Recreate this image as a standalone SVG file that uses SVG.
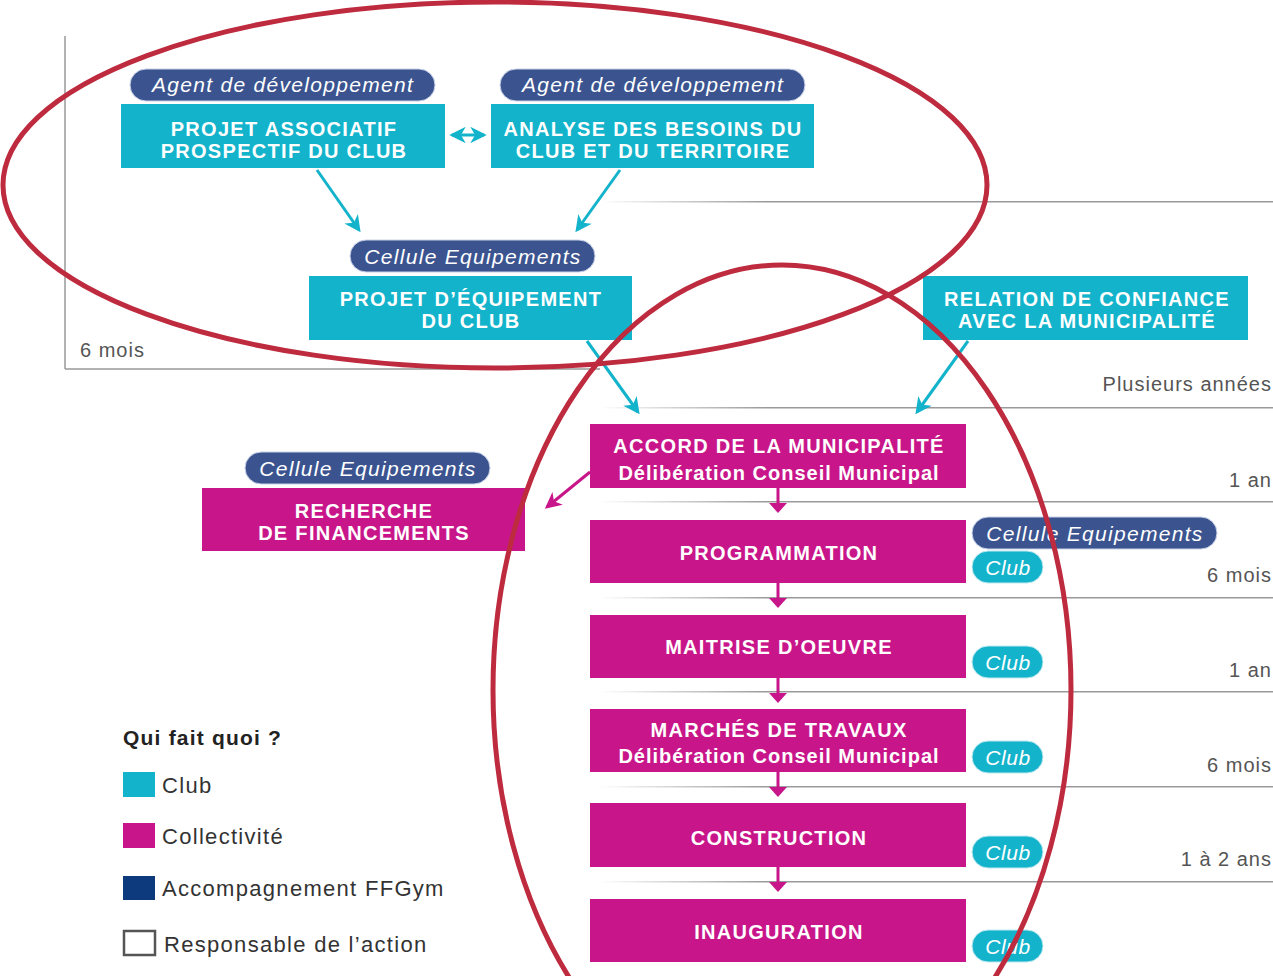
<svg xmlns="http://www.w3.org/2000/svg" width="1273" height="976" viewBox="0 0 1273 976">
<style>
.cy{fill:#13B3CB}
.mg{fill:#C8168A}
.pill{fill:#3B5490;stroke:#C9D2E8;stroke-width:1}
.cpill{fill:#13B3CB;stroke:#BFE9F0;stroke-width:1}
.bt{font-family:"Liberation Sans",Arial,sans-serif;font-weight:bold;font-size:20px;fill:#fff;text-anchor:middle;letter-spacing:1.3px}
.bs{font-family:"Liberation Sans",Arial,sans-serif;font-weight:bold;font-size:20px;fill:#fff;text-anchor:middle;letter-spacing:1px}
.pt{font-family:"Liberation Sans",Arial,sans-serif;font-style:italic;font-size:21px;fill:#fff;text-anchor:middle;letter-spacing:1.3px}
.tm{font-family:"Liberation Sans",Arial,sans-serif;font-size:20px;fill:#555;letter-spacing:1px}
.lg{font-family:"Liberation Sans",Arial,sans-serif;font-size:22px;fill:#333;letter-spacing:1.3px}
.gl{stroke:#999;stroke-width:1.5;fill:none}
.ca{stroke:#13B3CB;stroke-width:3;fill:none}
.ma{stroke:#C8168A;stroke-width:3;fill:none}
.red{fill:none;stroke:#BE2B3F;stroke-width:5}
</style>
<defs>
<linearGradient id="fadeL" x1="0" x2="1" y1="0" y2="0">
<stop offset="0" stop-color="#999" stop-opacity="0"/>
<stop offset="0.25" stop-color="#999" stop-opacity="1"/>
<stop offset="1" stop-color="#999" stop-opacity="1"/>
</linearGradient>
<linearGradient id="fadeR" x1="0" x2="1" y1="0" y2="0">
<stop offset="0" stop-color="#999" stop-opacity="1"/>
<stop offset="0.8" stop-color="#999" stop-opacity="1"/>
<stop offset="1" stop-color="#999" stop-opacity="0"/>
</linearGradient>
<marker id="ac" viewBox="0 0 12 12" refX="10" refY="6" markerWidth="5.5" markerHeight="5.5" orient="auto-start-reverse" markerUnits="strokeWidth">
<path d="M0,0 L12,6 L0,12 L3.5,6 z" fill="#13B3CB"/>
</marker>
<marker id="am" viewBox="0 0 12 12" refX="10" refY="6" markerWidth="5.5" markerHeight="5.5" orient="auto" markerUnits="strokeWidth">
<path d="M0,0 L12,6 L0,12 L3.5,6 z" fill="#C8168A"/>
</marker>
</defs>
<rect width="1273" height="976" fill="#fff"/>

<g id="gridlines">
<line x1="65" y1="36" x2="540" y2="36" stroke="url(#fadeR)" stroke-width="1.5"/>
<line class="gl" x1="65" y1="36" x2="65" y2="369"/>
<line class="gl" x1="65" y1="369" x2="600" y2="369"/>
<rect x="600" y="201" width="673" height="1.5" fill="url(#fadeL)"/>
<rect x="600" y="407" width="673" height="1.5" fill="url(#fadeL)"/>
<rect x="600" y="501" width="673" height="1.5" fill="url(#fadeL)"/>
<rect x="600" y="597" width="673" height="1.5" fill="url(#fadeL)"/>
<rect x="600" y="691" width="673" height="1.5" fill="url(#fadeL)"/>
<rect x="600" y="786" width="673" height="1.5" fill="url(#fadeL)"/>
<rect x="600" y="881" width="673" height="1.5" fill="url(#fadeL)"/>
</g>

<g id="timelabels">
<text class="tm" x="80" y="357">6 mois</text>
<g text-anchor="end">
<text class="tm" x="1272" y="391">Plusieurs années</text>
<text class="tm" x="1272" y="487">1 an</text>
<text class="tm" x="1272" y="582">6 mois</text>
<text class="tm" x="1272" y="677">1 an</text>
<text class="tm" x="1272" y="772">6 mois</text>
<text class="tm" x="1272" y="866">1 à 2 ans</text>
</g>
</g>

<g id="connectors">
<line class="ca" x1="452" y1="135" x2="484" y2="135" marker-start="url(#ac)" marker-end="url(#ac)"/>
<line class="ca" x1="317" y1="170" x2="359" y2="230" marker-end="url(#ac)"/>
<line class="ca" x1="620" y1="170" x2="577" y2="230" marker-end="url(#ac)"/>
<line class="ca" x1="587" y1="341" x2="638" y2="412" marker-end="url(#ac)"/>
<line class="ca" x1="968" y1="341" x2="917" y2="412" marker-end="url(#ac)"/>
<line class="ma" x1="590" y1="472" x2="547" y2="507" marker-end="url(#am)"/>
<g fill="#C8168A">
<rect x="776.5" y="488" width="3" height="16"/><path d="M769,503 L787,503 L778,513 z"/>
<rect x="776.5" y="583" width="3" height="16"/><path d="M769,598 L787,598 L778,608 z"/>
<rect x="776.5" y="678" width="3" height="16"/><path d="M769,693 L787,693 L778,703 z"/>
<rect x="776.5" y="772" width="3" height="16"/><path d="M769,787 L787,787 L778,797 z"/>
<rect x="776.5" y="867" width="3" height="16"/><path d="M769,882 L787,882 L778,892 z"/>
</g>
</g>

<g id="n-projet-associatif">
<rect class="pill" x="130" y="69" width="305" height="32" rx="16"/>
<text class="pt" x="283" y="92">Agent de développement</text>
<rect class="cy" x="121" y="104" width="324" height="64"/>
<text class="bt" x="284" y="136">PROJET ASSOCIATIF</text>
<text class="bt" x="284" y="158">PROSPECTIF DU CLUB</text>
</g>

<g id="n-analyse">
<rect class="pill" x="500" y="69" width="305" height="32" rx="16"/>
<text class="pt" x="653" y="92">Agent de développement</text>
<rect class="cy" x="491" y="104" width="323" height="64"/>
<text class="bt" x="653" y="136">ANALYSE DES BESOINS DU</text>
<text class="bt" x="653" y="158">CLUB ET DU TERRITOIRE</text>
</g>

<g id="n-projet-equipement">
<rect class="pill" x="350" y="240" width="245" height="32" rx="16"/>
<text class="pt" x="473" y="264">Cellule Equipements</text>
<rect class="cy" x="309" y="276" width="323" height="64"/>
<text class="bt" x="471" y="306">PROJET D’ÉQUIPEMENT</text>
<text class="bt" x="471" y="328">DU CLUB</text>
</g>

<g id="n-relation">
<rect class="cy" x="923" y="276" width="325" height="64"/>
<text class="bt" x="1087" y="306">RELATION DE CONFIANCE</text>
<text class="bt" x="1087" y="328">AVEC LA MUNICIPALITÉ</text>
</g>

<g id="n-accord">
<rect class="mg" x="590" y="424" width="376" height="64"/>
<text class="bt" x="779" y="453">ACCORD DE LA MUNICIPALITÉ</text>
<text class="bs" x="779" y="480">Délibération Conseil Municipal</text>
</g>

<g id="n-recherche">
<rect class="pill" x="245" y="452" width="245" height="32" rx="16"/>
<text class="pt" x="368" y="476">Cellule Equipements</text>
<rect class="mg" x="202" y="488" width="323" height="63"/>
<text class="bt" x="364" y="518">RECHERCHE</text>
<text class="bt" x="364" y="540">DE FINANCEMENTS</text>
</g>

<g id="n-programmation">
<rect class="mg" x="590" y="520" width="376" height="63"/>
<text class="bt" x="779" y="560">PROGRAMMATION</text>
<rect class="pill" x="972" y="517" width="245" height="32" rx="16"/>
<text class="pt" x="1095" y="541">Cellule Equipements</text>
<rect class="cpill" x="972" y="551" width="71" height="32" rx="16"/>
<text class="pt" x="1008" y="575" style="letter-spacing:0.6px">Club</text>
</g>

<g id="n-maitrise">
<rect class="mg" x="590" y="615" width="376" height="63"/>
<text class="bt" x="779" y="654">MAITRISE D’OEUVRE</text>
<rect class="cpill" x="972" y="646" width="71" height="32" rx="16"/>
<text class="pt" x="1008" y="670" style="letter-spacing:0.6px">Club</text>
</g>

<g id="n-marches">
<rect class="mg" x="590" y="709" width="376" height="63"/>
<text class="bt" x="779" y="737">MARCHÉS DE TRAVAUX</text>
<text class="bs" x="779" y="763">Délibération Conseil Municipal</text>
<rect class="cpill" x="972" y="741" width="71" height="32" rx="16"/>
<text class="pt" x="1008" y="765" style="letter-spacing:0.6px">Club</text>
</g>

<g id="n-construction">
<rect class="mg" x="590" y="803" width="376" height="64"/>
<text class="bt" x="779" y="845">CONSTRUCTION</text>
<rect class="cpill" x="972" y="836" width="71" height="32" rx="16"/>
<text class="pt" x="1008" y="860" style="letter-spacing:0.6px">Club</text>
</g>

<g id="n-inauguration">
<rect class="mg" x="590" y="899" width="376" height="63"/>
<text class="bt" x="779" y="939">INAUGURATION</text>
<rect class="cpill" x="972" y="930" width="71" height="32" rx="16"/>
<text class="pt" x="1008" y="954" style="letter-spacing:0.6px">Club</text>
</g>

<g id="legend">
<text class="lg" x="123" y="745" style="font-weight:bold;font-size:21px;fill:#222;letter-spacing:1.2px">Qui fait quoi ?</text>
<rect x="123" y="772" width="32" height="25" fill="#13B3CB"/>
<text class="lg" x="162" y="793">Club</text>
<rect x="123" y="823" width="32" height="25" fill="#C8168A"/>
<text class="lg" x="162" y="844">Collectivité</text>
<rect x="123" y="876" width="32" height="24" fill="#0D3A7C"/>
<text class="lg" x="162" y="896">Accompagnement FFGym</text>
<rect x="124" y="931" width="31" height="24" fill="none" stroke="#555" stroke-width="2.5"/>
<text class="lg" x="164" y="952">Responsable de l’action</text>
</g>

<g id="highlights">
<ellipse class="red" cx="495" cy="185" rx="492" ry="183"/>
<ellipse class="red" cx="782" cy="690" rx="289" ry="425"/>
</g>
</svg>
